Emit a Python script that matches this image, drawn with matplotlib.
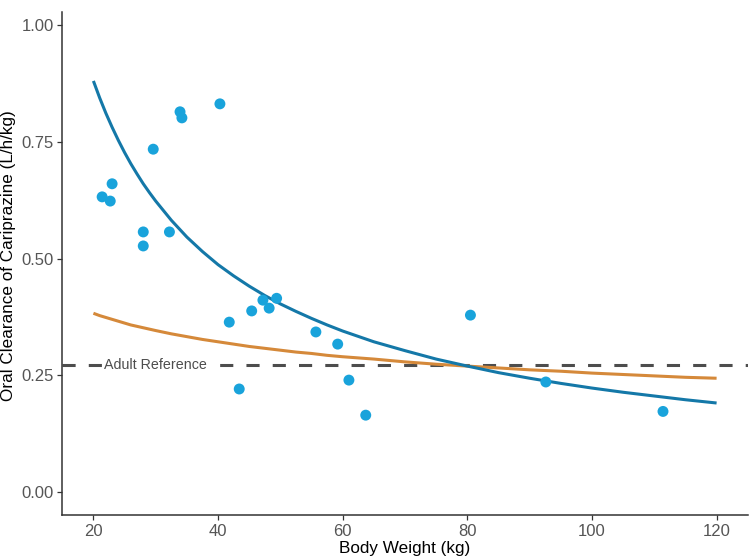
import matplotlib
matplotlib.use("Agg")
import matplotlib.pyplot as plt

plt.rcParams['font.family'] = ['Liberation Sans', 'DejaVu Sans']

# Observed points
weight = [21.4, 22.7, 23.0, 28.0, 28.0, 29.6, 32.2, 33.9, 34.2, 40.3, 41.8, 43.4,
          45.4, 47.2, 48.2, 49.4, 55.7, 59.2, 61.0, 63.7, 80.5, 92.6, 111.4]
clearance = [0.632, 0.623, 0.660, 0.557, 0.527, 0.734, 0.557, 0.814, 0.801, 0.831,
             0.364, 0.221, 0.388, 0.411, 0.394, 0.415, 0.343, 0.317, 0.240, 0.165,
             0.379, 0.236, 0.173]

# Curves
curve_x = [20, 21, 22, 23, 24, 25, 26, 27, 28, 29, 30, 32.5, 35, 37.5, 40, 42.5,
           45, 47.5, 50, 52.5, 55, 57.5, 60, 65, 70, 75, 80,
           85, 90, 95, 100, 105, 110, 115, 120]
blue_y = [0.880, 0.844, 0.811, 0.781, 0.753, 0.727, 0.703, 0.681, 0.660, 0.641,
          0.623, 0.582, 0.546, 0.515, 0.487, 0.463, 0.441, 0.421, 0.403, 0.387,
          0.372, 0.358, 0.345, 0.322, 0.303, 0.285, 0.270,
          0.256, 0.244, 0.233, 0.223, 0.214, 0.206, 0.198, 0.191]
orange_y = [0.383, 0.378, 0.374, 0.370, 0.366, 0.362, 0.358, 0.355, 0.352, 0.349,
            0.346, 0.339, 0.333, 0.327, 0.322, 0.317, 0.312, 0.308, 0.304, 0.300,
            0.297, 0.293, 0.290, 0.285, 0.279, 0.274, 0.270,
            0.266, 0.262, 0.259, 0.255, 0.252, 0.249, 0.246, 0.244]

adult_ref = 0.272
ref_label = "Adult Reference"
x_ticks = [20, 40, 60, 80, 100, 120]
y_ticks = [0.00, 0.25, 0.50, 0.75, 1.00]

fig = plt.figure(figsize=(7.5, 5.6), dpi=100)
ax = fig.add_axes([0.083, 0.080, 0.914, 0.899])

ax.axhline(adult_ref, color='#4d4d4d', linewidth=2.2, dashes=(4.3, 4.3), zorder=1)
ax.plot(curve_x, orange_y, color='#d5893a', linewidth=2.2, zorder=2,
        solid_capstyle='butt', solid_joinstyle='round')
ax.plot(curve_x, blue_y, color='#1478a8', linewidth=2.2, zorder=3,
        solid_capstyle='butt', solid_joinstyle='round')
ax.scatter(weight, clearance, s=62, color='#19a3db', edgecolors='none', zorder=4)

ax.text(30, adult_ref, ref_label, ha='center', va='center', fontsize=10.3, color='#4d4d4d',
        bbox=dict(facecolor='white', edgecolor='none', pad=1.5), zorder=2.5)

ax.set_xlim(15, 125)
ax.set_ylim(-0.049, 1.028)
ax.set_xticks(x_ticks)
ax.set_yticks(y_ticks)
ax.set_xticklabels([str(t) for t in x_ticks])
ax.set_yticklabels([f"{t:.2f}" for t in y_ticks])

for s in ['top', 'right']:
    ax.spines[s].set_visible(False)
for s in ['left', 'bottom']:
    ax.spines[s].set_color('#333333')
    ax.spines[s].set_linewidth(1.1)

ax.tick_params(axis='both', colors='#333333', labelcolor='#555555', labelsize=12,
               length=3.5, width=0.9, pad=2.5)

ax.set_xlabel("Body Weight (kg)", fontsize=12.3, color='black', labelpad=2)
ax.set_ylabel("Oral Clearance of Cariprazine (L/h/kg)", fontsize=12.3, color='black')
ax.yaxis.set_label_coords(-0.067, 0.515)

fig.savefig("out.png", dpi=100)
